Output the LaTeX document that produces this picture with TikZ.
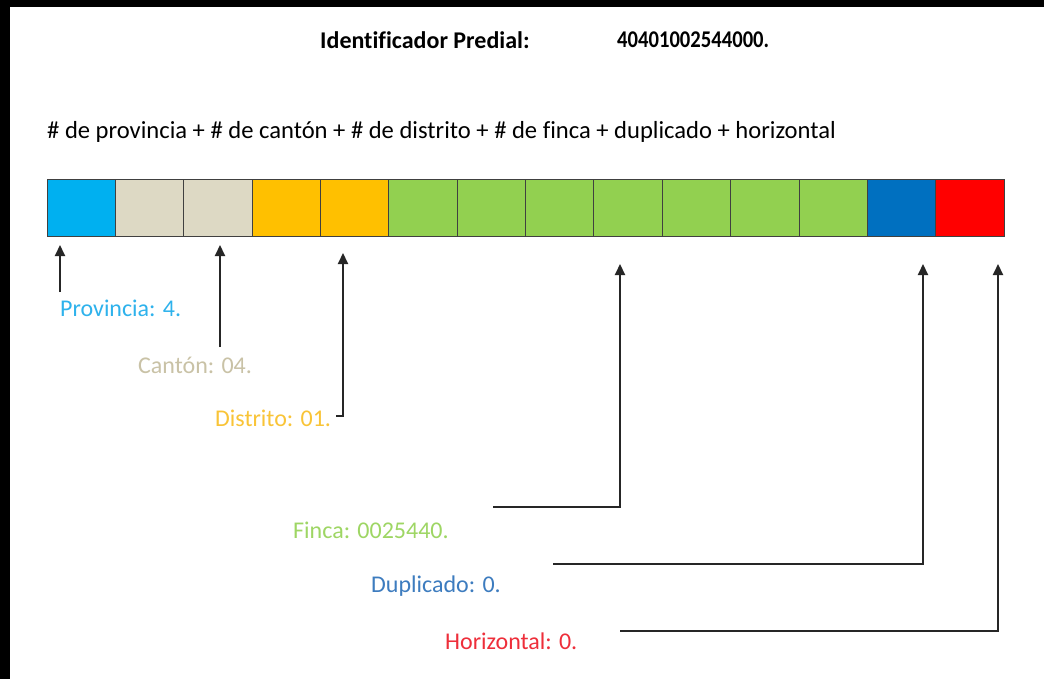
\documentclass[tikz,border=0pt]{standalone}
\usepackage{fontspec}
\setmainfont[Ligatures=NoCommon]{Carlito}
\usetikzlibrary{arrows.meta}
\definecolor{cprov}{HTML}{00B0F0}
\definecolor{ccan}{HTML}{DDD9C4}
\definecolor{cdis}{HTML}{FFC000}
\definecolor{cfin}{HTML}{92D050}
\definecolor{cdup}{HTML}{0070C0}
\definecolor{chor}{HTML}{FF0000}
\definecolor{tprov}{HTML}{2EB2EC}
\definecolor{tcan}{HTML}{C9C2A6}
\definecolor{tdis}{HTML}{F9C437}
\definecolor{tfin}{HTML}{9ED664}
\definecolor{tdup}{HTML}{3D7CBF}
\definecolor{thor}{HTML}{EE2E3A}
\definecolor{lnk}{HTML}{262626}
\begin{document}
\begin{tikzpicture}[x=1pt,y=-1pt,
  txt/.style={font=\fontsize{24}{28}\selectfont, anchor=west, inner sep=0pt},
  btxt/.style={font=\fontsize{24}{28}\selectfont\bfseries, anchor=west, inner sep=0pt},
  cell/.style={draw=black!75, line width=0.8pt, minimum width=68.36pt, minimum height=57pt, inner sep=0pt, outer sep=0pt},
  arr/.style={draw=lnk, line width=2pt, -{Triangle[length=11pt,width=10pt]}}]
\useasboundingbox (0,0) rectangle (1044,679);
\fill[black] (0,0) rectangle (1044,679);
\fill[white] (10,7) rectangle (1044,679);
% title
\node[btxt] (tit) at (320,40) {Identificador Predial:};
\node[btxt] (num) at (617,40) {\scalebox{0.86}[1]{40401002544000.}};
\node[txt, font=\fontsize{24.6}{28}\selectfont] (form) at (47,132) {\# de provincia + \# de cantón + \# de distrito + \# de finca + duplicado + horizontal};
% cells
\foreach \i/\col in {1/cprov,2/ccan,3/ccan,4/cdis,5/cdis,6/cfin,7/cfin,8/cfin,9/cfin,10/cfin,11/cfin,12/cfin,13/cdup,14/chor}
  \node[cell, fill=\col] (c\i) at ({47+68.36*(\i-0.5)},207.5) {};
% labels
\node[txt, text=tprov] (lprov) at (60,308) {Provincia: 4.};
\node[txt, text=tcan] (lcan) at (138,365) {Cantón: 04.};
\node[txt, text=tdis] (ldis) at (215,418) {Distrito: 01.};
\node[txt, text=tfin] (lfin) at (293,530) {Finca: 0025440.};
\node[txt, text=tdup] (ldup) at (371,586) {Duplicado: 0.};
\node[txt, text=thor] (lhor) at (445,641) {Horizontal: 0.};
% arrow coordinates
\coordinate (t1) at (60,245);
\coordinate (b1) at (60,292);
\coordinate (t3) at (220,245);
\coordinate (b3) at (220,347);
\coordinate (t5) at (343,253);
\coordinate (e5) at (336,416);
\coordinate (t9) at (620,264);
\coordinate (e9) at (493,507);
\coordinate (t13) at (923,264);
\coordinate (e13) at (553,564);
\coordinate (t14) at (998,264);
\coordinate (e14) at (620,631);
\draw[arr] (b1) -- (t1);
\draw[arr] (b3) -- (t3);
\draw[arr] (e5) -| (t5);
\draw[arr] (e9) -| (t9);
\draw[arr] (e13) -| (t13);
\draw[arr] (e14) -| (t14);
\end{tikzpicture}
\end{document}
